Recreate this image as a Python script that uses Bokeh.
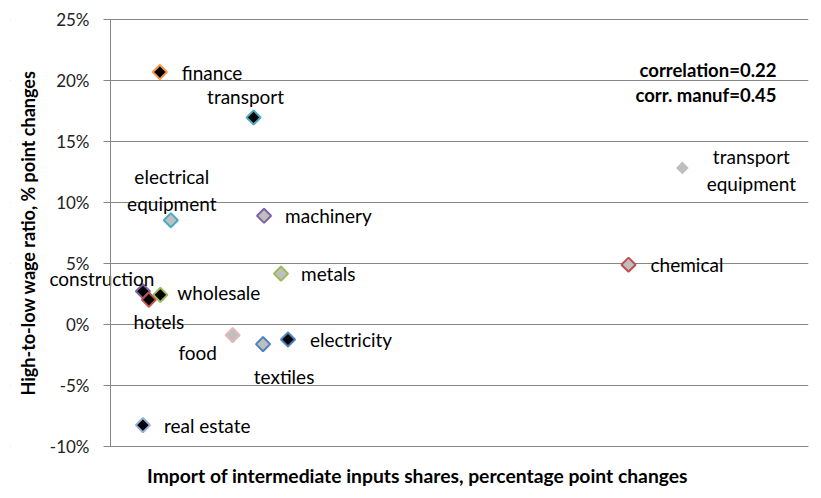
import numpy as np
from bokeh.plotting import figure
from bokeh.models import (ColumnDataSource, FixedTicker, NumeralTickFormatter, Range1d, Label,
                          BoxAnnotation)
from bokeh.core.properties import value
from bokeh.embed import file_html
from bokeh.resources import INLINE

sectors = ["finance", "transport", "electrical\nequipment", "machinery", "metals",
           "construction", "hotels", "wholesale", "food", "textiles", "electricity",
           "real estate", "chemical", "transport\nequipment"]
import_change = [0.99, 2.87, 1.21, 3.08, 3.42, 0.65, 0.77, 1.00, 2.45, 3.06, 3.56, 0.65, 10.39, 11.47]
wage_ratio_change = [0.2069, 0.1697, 0.0855, 0.0891, 0.0417, 0.0272, 0.0204, 0.0243,
                     -0.0087, -0.0161, -0.0123, -0.0825, 0.0490, 0.1283]
y_ticks = [-0.10, -0.05, 0.0, 0.05, 0.10, 0.15, 0.20, 0.25]
notes = ["correlation=0.22", "corr. manuf=0.45"]
x_title = "Import of intermediate inputs shares, percentage point changes"
y_title = "High-to-low wage ratio, % point changes"

# ---- layout / styling (not data) ----
fill = ["black", "black", "#BFBFBF", "#BFBFBF", "#BFBFBF", "black", "black", "black",
        "#BFBFBF", "#BFBFBF", "black", "black", "#BFBFBF", "#BFBFBF"]
outline = ["#F79646", "#4BACC6", "#4BACC6", "#8064A2", "#9BBB59", "#8064A2", "#C0504D",
           "#9BBB59", "#E6B9B8", "#4F81BD", "#4F81BD", "#95B3D7", "#C0504D", "#BFBFBF"]
sizes = [10, 10, 10, 10, 10, 10, 10, 10, 10, 10, 10, 10, 10, 9]
lw = [2, 2, 2, 2, 2, 2, 2, 2, 2, 2, 2, 2, 2, 0.01]
lab_dx = [22, -8, 1, 21, 20, -41, 10, 17, -35, 21, 22, 21, 22, 69]
lab_dy = [0, -21, -30, 0, 0, -13, 22, -2, 17, 32, 0, 0, 0, 2]
lab_align = ["left", "center", "center", "left", "left", "center", "center", "left",
             "center", "center", "left", "left", "left", "center"]

FONT = "Lato"
W, H = 813, 489
B_LEFT, B_RIGHT, B_TOP, B_BOTTOM = 10, 5, 3, 0
X_MIN, X_MAX = 0.0, 14.0            # axis extent in data units
Y_MIN, Y_MAX = -0.10, 0.25
AX_LEFT_PX, AX_TOP_PX, AX_BOTTOM_PX = 110, 19, 446   # where the axes sit on the canvas

# frame extends beyond the axes so that overflowing text isn't clipped
fx0, fx1 = B_LEFT, W - B_RIGHT
fy0, fy1 = B_TOP, H - B_BOTTOM
xs = (X_MAX - X_MIN) / (fx1 - AX_LEFT_PX)
ys = (Y_MAX - Y_MIN) / (AX_BOTTOM_PX - AX_TOP_PX)
x_range = Range1d(X_MIN - (AX_LEFT_PX - fx0) * xs, X_MAX)
y_range = Range1d(Y_MIN - (fy1 - AX_BOTTOM_PX) * ys, Y_MAX + (AX_TOP_PX - fy0) * ys)

src = ColumnDataSource(dict(x=import_change, y=wage_ratio_change, name=sectors,
                            fill=fill, outline=outline, size=sizes, lw=lw,
                            dx=lab_dx, dy=lab_dy, align=lab_align))

p = figure(width=W, height=H, output_backend="svg", toolbar_location=None,
           x_range=x_range, y_range=y_range,
           min_border_left=B_LEFT, min_border_right=B_RIGHT,
           min_border_top=B_TOP, min_border_bottom=B_BOTTOM)
p.outline_line_color = None
p.background_fill_color = "white"
p.border_fill_color = "white"

grey = "#868686"
p.xgrid.visible = False
p.ygrid.ticker = FixedTicker(ticks=y_ticks)
p.ygrid.grid_line_color = grey
p.ygrid.grid_line_width = 1

# white mask hides the gridlines left of the y axis
p.add_layout(BoxAnnotation(right=X_MIN, fill_color="white", fill_alpha=1, line_color=None,
                           level="underlay"))

p.yaxis.fixed_location = X_MIN
p.yaxis.bounds = (Y_MIN, Y_MAX)
p.yaxis.ticker = FixedTicker(ticks=y_ticks)
p.yaxis.formatter = NumeralTickFormatter(format="0%")
p.yaxis.axis_line_color = grey
p.yaxis.major_tick_line_color = grey
p.yaxis.major_tick_out = 7
p.yaxis.major_tick_in = 0
p.yaxis.minor_tick_line_color = None
p.yaxis.major_label_text_font = FONT
p.yaxis.major_label_text_font_size = "17px"
p.yaxis.major_label_text_color = "#222222"
p.yaxis.major_label_standoff = 14
p.yaxis.axis_label = y_title
p.yaxis.axis_label_text_font = FONT
p.yaxis.axis_label_text_font_style = "bold"
p.yaxis.axis_label_text_font_size = "18px"
p.yaxis.axis_label_text_color = "black"
p.yaxis.axis_label_standoff = 8

p.xaxis.fixed_location = Y_MIN
p.xaxis.bounds = (X_MIN, X_MAX)
p.xaxis.ticker = FixedTicker(ticks=[])
p.xaxis.axis_line_color = grey
p.xaxis.major_tick_line_color = None
p.xaxis.minor_tick_line_color = None

p.scatter("x", "y", source=src, marker="square", angle=np.pi / 4, size="size",
          fill_color="fill", line_color="outline", line_width="lw")

p.text("x", "y", text="name", source=src, x_offset="dx", y_offset="dy",
       text_align="align", text_baseline="middle", text_font=value(FONT),
       text_font_size="19px", text_color="black", text_line_height=1.15)

# x-axis title, placed in screen offsets from the axis corner
p.add_layout(Label(x=X_MIN, y=Y_MIN, x_offset=307, y_offset=-29, text=x_title,
                   text_align="center", text_baseline="middle", text_font=FONT,
                   text_font_style="bold", text_font_size="19.3px", text_color="black"))

# correlation notes, anchored to the top-right corner
for k, txt in enumerate(notes):
    p.add_layout(Label(x=X_MAX, y=Y_MAX, x_offset=-32, y_offset=-50 - 25 * k, text=txt,
                       text_align="right", text_baseline="middle", text_font=FONT,
                       text_font_style="bold", text_font_size="18.5px", text_color="black"))

open("out.html", "w").write(file_html(p, INLINE))
